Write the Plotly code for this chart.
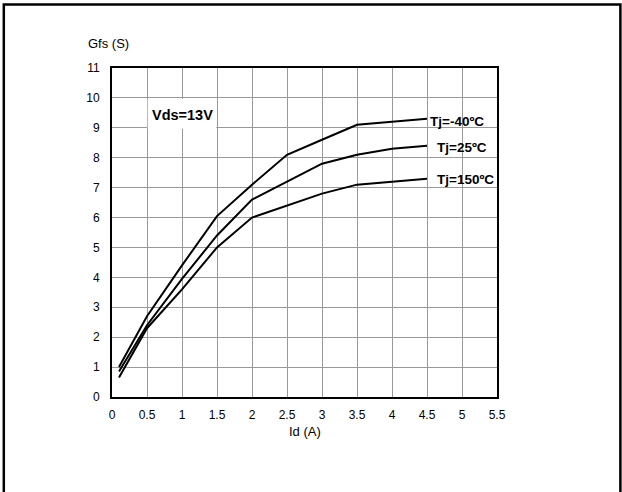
import plotly.graph_objects as go

# Data
id_a = [0.1, 0.5, 1.0, 1.5, 2.0, 2.5, 3.0, 3.5, 4.0, 4.5]
gfs_m40 = [1.0, 2.7, 4.4, 6.05, 7.1, 8.1, 8.6, 9.1, 9.2, 9.3]
gfs_25 = [0.85, 2.4, 3.95, 5.4, 6.6, 7.2, 7.8, 8.1, 8.3, 8.4]
gfs_150 = [0.65, 2.3, 3.6, 5.0, 6.0, 6.4, 6.8, 7.1, 7.2, 7.3]
series_names = ["Tj=-40ºC", "Tj=25ºC", "Tj=150ºC"]
label_pos = [(4.51, 9.2), (4.61, 8.33), (4.61, 7.27)]
x_ticks = [0, 0.5, 1, 1.5, 2, 2.5, 3, 3.5, 4, 4.5, 5, 5.5]
y_ticks = list(range(0, 12))

FONT = "Liberation Sans, Arial, sans-serif"

fig = go.Figure()
for name, ys in zip(series_names, [gfs_m40, gfs_25, gfs_150]):
    fig.add_trace(go.Scatter(x=id_a, y=ys, mode="lines", name=name,
                             line=dict(color="black", width=2), showlegend=False))

for name, (lx, ly) in zip(series_names, label_pos):
    fig.add_annotation(x=lx, y=ly, text="<b>%s</b>" % name, showarrow=False,
                       xanchor="left", yanchor="middle",
                       font=dict(family=FONT, size=13.5, color="black"))

# white box behind Vds label
fig.add_shape(type="rect", xref="x", yref="y", x0=0.51, x1=1.49, y0=8.97, y1=9.96,
              fillcolor="white", line=dict(width=0), layer="above")
fig.add_annotation(x=1.0, y=9.43, text="<b>Vds=13V</b>", showarrow=False,
                   font=dict(family=FONT, size=14.5, color="black"))

# axis titles
fig.add_annotation(xref="paper", yref="paper", x=-0.0675, y=1.073, text="Gfs (S)",
                   showarrow=False, xanchor="left", yanchor="middle",
                   font=dict(family=FONT, size=13, color="black"))
fig.add_annotation(xref="paper", yref="paper", x=0.5, y=-0.106, text="Id (A)",
                   showarrow=False, xanchor="center", yanchor="middle",
                   font=dict(family=FONT, size=13, color="black"))

# outer frame
fig.add_shape(type="rect", xref="paper", yref="paper", x0=-0.281, x1=1.3205,
              y0=-0.4, y1=1.193, line=dict(color="black", width=2.5),
              fillcolor="rgba(0,0,0,0)", layer="above")

fig.update_xaxes(range=[0, 5.5], tickvals=x_ticks, ticktext=[("%g" % v) for v in x_ticks],
                 showgrid=True, gridcolor="#999999", gridwidth=1,
                 showline=True, linecolor="black", linewidth=2, mirror=True,
                 ticks="", ticklabelstandoff=6, zeroline=False,
                 tickfont=dict(family=FONT, size=12, color="black"))
fig.update_yaxes(range=[0, 11], tickvals=y_ticks,
                 showgrid=True, gridcolor="#999999", gridwidth=1,
                 showline=True, linecolor="black", linewidth=2, mirror=True,
                 ticks="", ticklabelstandoff=8, zeroline=False,
                 tickfont=dict(family=FONT, size=12, color="black"))

fig.update_layout(width=622, height=492, margin=dict(l=112, r=125, t=68, b=95),
                  paper_bgcolor="white", plot_bgcolor="white",
                  font=dict(family=FONT, color="black"))

fig.write_html("out.html", config={"displayModeBar": False},
               post_script="document.body.style.margin='0px';document.body.style.overflow='hidden';")
